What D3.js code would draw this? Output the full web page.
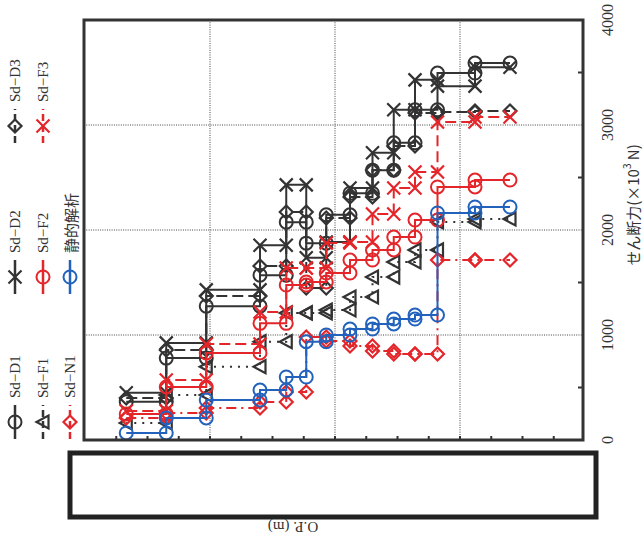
<!DOCTYPE html>
<html><head><meta charset="utf-8">
<script src="https://cdn.jsdelivr.net/npm/d3@7"></script>
<style>body{margin:0;background:#fff}</style>
</head><body>
<svg id="chart" width="643" height="539"></svg>
<script>
// Layer boundaries along the structure (O.P., m)
const boundaries = [6.7, 3.5, 0.3, -4.0, -6.1, -7.7, -9.3, -11.2, -13.0, -14.7, -16.4, -18.2, -21.2, -24.0];

// Shear force per layer (×10^3 N)
const sdD1 = [365, 780, 1275, 1570, 2075, 1875, 2145, 2350, 2570, 2830, 3145, 3495, 3590];
const sdD2 = [450, 925, 1430, 1855, 2430, 1735, 1885, 2400, 2735, 3145, 3430, 3370, 3550];
const sdD3 = [400, 857, 1371, 1657, 2171, 1448, 2114, 2314, 2571, 2800, 3114, 3124, 3133];
const sdF1 = [162, 429, 698, 936, 1210, 1210, 1238, 1362, 1552, 1695, 1810, 2076, 2105];
const sdF2 = [248, 505, 829, 1111, 1476, 1505, 1590, 1714, 1810, 1933, 2095, 2410, 2476];
const sdF3 = [276, 571, 914, 1219, 1638, 1638, 1876, 1886, 2152, 2400, 2552, 3029, 3076];
const sdN1 = [210, 257, 305, 362, 457, 981, 943, 895, 848, 819, 819, 1714, 1714];
const staticAnalysis = [67, 210, 381, 476, 600, 936, 1000, 1057, 1105, 1152, 1190, 2162, 2219];

const shearTicks = [0, 1000, 2000, 3000, 4000];
const shearMinorTicks = [500, 1500, 2500, 3500];
const opGrid = [0, -10, -20];
const opMinorTicks = d3.range(7.5, -30, -2.5);

const seriesNames = ["Sd−D1", "Sd−D2", "Sd−D3", "Sd−F1", "Sd−F2", "Sd−F3", "Sd−N1", "静的解析"];

const BLACK = "#333", RED = "#e4262b", BLUE = "#2262bd";

const series = [
  {name: seriesNames[0], values: sdD1, color: BLACK, dash: null, marker: "circle"},
  {name: seriesNames[1], values: sdD2, color: BLACK, dash: null, marker: "cross"},
  {name: seriesNames[2], values: sdD3, color: BLACK, dash: "11,5", marker: "diamond"},
  {name: seriesNames[3], values: sdF1, color: BLACK, dash: "2,6", marker: "triangle"},
  {name: seriesNames[4], values: sdF2, color: RED, dash: null, marker: "circle"},
  {name: seriesNames[5], values: sdF3, color: RED, dash: "11,5", marker: "cross"},
  {name: seriesNames[6], values: sdN1, color: RED, dash: "10,5,2,5", marker: "diamond"},
  {name: seriesNames[7], values: staticAnalysis, color: BLUE, dash: null, marker: "circle"}
];

const svg = d3.select("#chart");
const plot = {left: 84, right: 583, top: 20, bottom: 440};

// O.P. runs left→right (top of structure on the left), shear runs upward
const x = d3.scaleLinear().domain([10, -30]).range([85, 585]);
const y = d3.scaleLinear().domain([0, 4000]).range([plot.bottom, plot.top]);

// grid
const grid = svg.append("g").attr("stroke", "#444").attr("stroke-width", 1).attr("stroke-dasharray", "1,1.3");
grid.selectAll("line.h").data(shearTicks.slice(1, -1)).join("line")
  .attr("x1", plot.left).attr("x2", plot.right)
  .attr("y1", d => y(d)).attr("y2", d => y(d));
grid.selectAll("line.v").data(opGrid).join("line")
  .attr("x1", d => x(d)).attr("x2", d => x(d))
  .attr("y1", plot.top).attr("y2", plot.bottom);

// minor ticks
const ticks = svg.append("g").attr("stroke", "#333").attr("stroke-width", 2);
ticks.selectAll("line.r").data(shearMinorTicks).join("line")
  .attr("x1", plot.right - 5).attr("x2", plot.right)
  .attr("y1", d => y(d)).attr("y2", d => y(d));
ticks.selectAll("line.b").data(opMinorTicks.filter(d => x(d) > plot.left + 2 && x(d) < plot.right - 2)).join("line")
  .attr("x1", d => x(d)).attr("x2", d => x(d))
  .attr("y1", plot.bottom - 4).attr("y2", plot.bottom);

// marker shapes
function drawMarker(g, type, cx, cy, color) {
  const s = 6.5;
  if (type === "circle") {
    g.append("circle").attr("cx", cx).attr("cy", cy).attr("r", s)
      .attr("fill", "none").attr("stroke", color).attr("stroke-width", 2);
  } else if (type === "cross") {
    g.append("path").attr("d", `M${cx - s},${cy - s}L${cx + s},${cy + s}M${cx - s},${cy + s}L${cx + s},${cy - s}`)
      .attr("fill", "none").attr("stroke", color).attr("stroke-width", 2.2);
  } else if (type === "diamond") {
    g.append("path").attr("d", `M${cx},${cy - s}L${cx + s},${cy}L${cx},${cy + s}L${cx - s},${cy}Z`)
      .attr("fill", "none").attr("stroke", color).attr("stroke-width", 2.2);
  } else if (type === "triangle") {
    g.append("path").attr("d", `M${cx - 6.5},${cy}L${cx + 5.5},${cy - 6.5}L${cx + 5.5},${cy + 6.5}Z`)
      .attr("fill", "none").attr("stroke", color).attr("stroke-width", 2.2);
  }
}

// step profiles
const line = d3.line().x(d => x(d[0])).y(d => y(d[1]));
series.forEach(s => {
  const pts = [];
  s.values.forEach((v, i) => {
    pts.push([boundaries[i], v]);
    pts.push([boundaries[i + 1], v]);
  });
  const g = svg.append("g");
  g.append("path").attr("d", line(pts)).attr("fill", "none")
    .attr("stroke", s.color).attr("stroke-width", 2)
    .attr("stroke-dasharray", s.dash);
  pts.forEach(p => drawMarker(g, s.marker, x(p[0]), y(p[1]), s.color));
});

// frame
svg.append("rect").attr("x", plot.left).attr("y", plot.top)
  .attr("width", plot.right - plot.left).attr("height", plot.bottom - plot.top)
  .attr("fill", "none").attr("stroke", "#333").attr("stroke-width", 3);

// shear axis labels (rotated)
const fontSerif = "'Liberation Serif','DejaVu Serif',serif";
svg.append("g").selectAll("text").data(shearTicks).join("text")
  .attr("transform", d => `translate(607,${y(d)}) rotate(-90)`)
  .attr("text-anchor", "middle").attr("dominant-baseline", "central")
  .attr("font-family", fontSerif).attr("font-size", 16).attr("fill", "#333")
  .text(d => d);

const title = svg.append("text")
  .attr("transform", `translate(632,205) rotate(-90)`)
  .attr("text-anchor", "middle").attr("dominant-baseline", "central")
  .attr("font-family", "'Noto Sans CJK JP',sans-serif").attr("font-size", 15).attr("fill", "#333");
title.append("tspan").text("せん断力(×10");
title.append("tspan").attr("font-size", 10).attr("dy", -6).text("3");
title.append("tspan").attr("dy", 6).text(" N)");

// O.P. axis label block
svg.append("rect").attr("x", 70).attr("y", 453).attr("width", 526).attr("height", 64)
  .attr("fill", "#fff").attr("stroke", "#222").attr("stroke-width", 5);
svg.append("text")
  .attr("transform", "translate(293,527) rotate(180)")
  .attr("text-anchor", "middle").attr("dominant-baseline", "central")
  .attr("font-family", fontSerif).attr("font-size", 15).attr("fill", "#333")
  .text("O.P.  (m)");

// legend (rotated)
const legendPos = [[15, 422], [15, 277], [15, 126], [43, 422], [43, 277], [43, 126], [70, 422], [70, 277]];
series.forEach((s, i) => {
  const [lx, ly] = legendPos[i];
  const g = svg.append("g").attr("transform", `translate(${lx},${ly}) rotate(-90)`);
  g.append("line").attr("x1", -17).attr("x2", 17).attr("y1", 0).attr("y2", 0)
    .attr("stroke", s.color).attr("stroke-width", 2.5).attr("stroke-dasharray", s.dash ? "7,4" : null);
  const mg = g.append("g").attr("transform", "rotate(90)");
  drawMarker(mg, s.marker, 0, 0, s.color);
  g.append("text").attr("x", 24).attr("y", 0).attr("dominant-baseline", "central")
    .attr("font-family", i === 7 ? "'Noto Sans CJK JP',sans-serif" : fontSerif)
    .attr("font-size", 15).attr("fill", "#333").text(s.name);
});
</script>
</body></html>
